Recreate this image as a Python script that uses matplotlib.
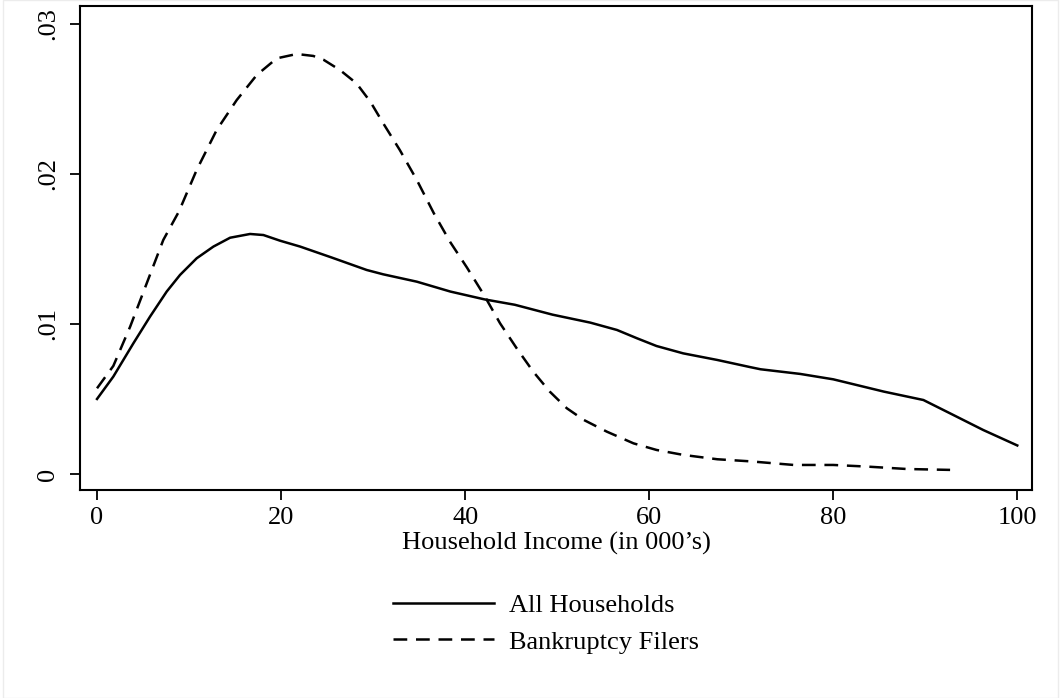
import matplotlib
matplotlib.use("Agg")
import matplotlib.pyplot as plt
from matplotlib.patches import Rectangle

# densite du revenu des menages (en milliers)
x_tous = [0, 1.77, 3.95, 5.76, 7.57, 9.02, 10.83, 12.65, 14.46, 16.63, 18.08, 19.9,
          22.07, 25.5, 29.3, 31.1, 34.75, 38.4, 42.1, 45.4, 49.5, 53.6, 56.5, 58.7,
          60.8, 63.7, 67.4, 71, 72.1, 76.4, 80, 85.5, 89.8, 92.7, 96.3, 100]
y_tous = [0.0050, 0.00649, 0.00871, 0.01049, 0.01216, 0.01327, 0.01438, 0.01516,
          0.01575, 0.0160, 0.01593, 0.01555, 0.01516, 0.01443, 0.0136, 0.01331,
          0.01282, 0.01216, 0.01164, 0.01128, 0.01062, 0.01009, 0.0096, 0.00904,
          0.00853, 0.00804, 0.0076, 0.00712, 0.00698, 0.00667, 0.00631, 0.00549,
          0.00493, 0.00404, 0.00293, 0.0019]

x_faillite = [0, 1.77, 3.6, 5.4, 7.2, 8.9, 10.83, 13.0, 15.18, 17.36, 19.53, 21.7,
              23.5, 24.6, 26.4, 28.2, 29.7, 31.1, 32.9, 34.75, 36.6, 38.4, 40.2, 42.1,
              43.8, 45.6, 47.4, 49.2, 51.05, 52.9, 55.4, 58.3, 60.8, 63.7, 67.4, 71,
              75.7, 80, 83.7, 88, 92.7]
y_faillite = [0.00571, 0.00720, 0.00982, 0.01271, 0.0156, 0.01750, 0.02027, 0.02293,
              0.02493, 0.0266, 0.02771, 0.0280, 0.02787, 0.02762, 0.02693, 0.02604,
              0.02482, 0.02338, 0.0216, 0.0196, 0.01738, 0.01544, 0.01376, 0.01188,
              0.01004, 0.00838, 0.00682, 0.00549, 0.00438, 0.0036, 0.00282, 0.00204,
              0.0016, 0.00127, 0.00098, 0.00084, 0.0006, 0.0006, 0.00049, 0.00033,
              0.00027]

ticks_x = [0, 20, 40, 60, 80, 100]
ticks_y = [0, 0.01, 0.02, 0.03]
etiquettes_y = ["0", ".01", ".02", ".03"]

plt.rcParams['font.family'] = ['Liberation Serif', 'DejaVu Serif']

fig = plt.figure(figsize=(10.61, 6.98), dpi=100)
fig.patches.append(Rectangle((3 / 1061, 0), 1055 / 1061, 1, transform=fig.transFigure,
                             fill=False, edgecolor='#ececec', linewidth=1.0))

ax = fig.add_axes([80 / 1061, 1 - 490 / 698, 952 / 1061, 484 / 698])
ax.plot(x_tous, y_tous, color='black', linewidth=1.8, label='All Households')
ax.plot(x_faillite, y_faillite, color='black', linewidth=1.8, linestyle=(0, (5.5, 3.5)),
        label='Bankruptcy Filers')

ax.set_xlim(-1.85, 101.6)
ax.set_ylim(-0.00107, 0.0312)
ax.set_xticks(ticks_x)
ax.set_yticks(ticks_y)
ax.set_yticklabels(etiquettes_y, rotation=90, va='center')
ax.tick_params(axis='both', direction='out', length=7, width=1.3, labelsize=19)
ax.tick_params(axis='y', pad=8)
ax.tick_params(axis='x', pad=5)
for s in ax.spines.values():
    s.set_linewidth(1.5)

ax.set_xlabel('Household Income (in 000’s)', fontsize=19, labelpad=2)

fig.legend(loc='upper center', bbox_to_anchor=(0.515, 0.183), ncol=1, frameon=False,
           fontsize=19, handlelength=3.8, handletextpad=0.6, labelspacing=0.48)

fig.savefig('out.png', dpi=100, facecolor='white')
